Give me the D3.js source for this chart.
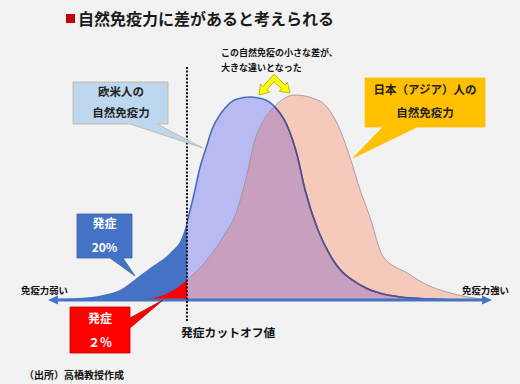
<!DOCTYPE html>
<html>
<head>
<meta charset="utf-8">
<script src="https://d3js.org/d3.v7.min.js"></script>
<style>
  body { margin: 0; background: #f2f2f2; }
  svg text { font-family: "Noto Sans CJK JP", "Noto Sans", sans-serif; font-weight: 700; }
</style>
</head>
<body>
<script>
// immunity (x, 0-100) and relative density (y, 0-100)
var westX = [0.5, 7.2, 12.4, 16.2, 20.0, 23.0, 27.5, 30.2, 31.3, 33.1, 34.2, 35.6, 36.9, 39.9, 42.6, 45.5, 48.4, 51.1, 53.8, 56.1, 57.9, 60.8, 64.2, 70.3, 79.3, 86.0, 92.8];
var westY = [0.5, 1.0, 2.5, 4.9, 10.8, 15.8, 23.2, 31.0, 38.4, 54.2, 65.0, 74.9, 83.7, 94.6, 99.0, 100, 99.0, 95.1, 86.2, 71.4, 54.2, 34.5, 19.7, 7.4, 1.5, 0.5, 0];
var asiaX = [22.5, 27.5, 31.3, 35.8, 39.4, 42.6, 44.4, 46.6, 48.6, 50.7, 53.4, 55.2, 57.9, 60.1, 61.9, 65.3, 68.0, 70.3, 72.5, 75.5, 80.9, 85.4, 89.9, 94.4, 99.5];
var asiaY = [0.5, 3.9, 9.9, 19.7, 31.0, 44.3, 58.1, 78.8, 88.7, 94.6, 99.5, 101, 100.5, 99, 97, 86.2, 70.4, 54.2, 40.9, 21.2, 13.3, 7.4, 3.9, 1.5, 0];
var cutoff = 31.3;
var axisLabels = ["免疫力弱い", "免疫力強い"];
var title = "自然免疫力に差があると考えられる";
var note = ["この自然免疫の小さな差が、", "大きな違いとなった"];
var westLabel = ["欧米人の", "自然免疫力"];
var asiaLabel = ["日本（アジア）人の", "自然免疫力"];
var onsetWest = ["発症", "20%"];
var onsetAsia = ["発症", "２％"];
var cutoffLabel = "発症カットオフ値";
var source = "（出所）高橋教授作成";

var w = 520, h = 384;
var x = d3.scaleLinear().domain([0, 100]).range([48, 492]);
var y = d3.scaleLinear().domain([0, 100]).range([300, 97]);

var west = westX.map(function(d, i){ return [d, westY[i]]; });
var asia = asiaX.map(function(d, i){ return [d, asiaY[i]]; });

var area = d3.area().x(function(d){ return x(d[0]); }).y0(y(0)).y1(function(d){ return y(d[1]); }).curve(d3.curveMonotoneX);
var line = d3.line().x(function(d){ return x(d[0]); }).y(function(d){ return y(d[1]); }).curve(d3.curveMonotoneX);

var svg = d3.select('body').append('svg').attr('width', w).attr('height', h);
svg.append('rect').attr('width', w).attr('height', h).attr('fill', '#f2f2f2');

var defs = svg.append('defs');
defs.append('clipPath').attr('id', 'leftClip').append('rect')
    .attr('x', 0).attr('y', 0).attr('width', x(cutoff)).attr('height', h);
defs.append('clipPath').attr('id', 'rightClip').append('rect')
    .attr('x', x(cutoff)).attr('y', 0).attr('width', w - x(cutoff)).attr('height', h);
defs.append('clipPath').attr('id', 'asiaClip').append('path').attr('d', area(asia));

// title
svg.append('rect').attr('x', 66).attr('y', 14).attr('width', 9).attr('height', 9).attr('fill', '#c00000');
svg.append('text').attr('x', 78).attr('y', 25).attr('font-size', 16).attr('fill', '#1a1a1a').text(title);

// right of cutoff
var right = svg.append('g').attr('clip-path', 'url(#rightClip)');
right.append('path').attr('d', area(asia)).attr('fill', '#f5cabb');
right.append('path').attr('d', area(west)).attr('fill', '#b8bbf1');
right.append('g').attr('clip-path', 'url(#asiaClip)')
    .append('path').attr('d', area(west)).attr('fill', '#c99fc0');
right.append('path').attr('d', line(asia)).attr('fill', 'none').attr('stroke', '#9a8c9c').attr('stroke-width', 0.8);
right.append('path').attr('d', line(west)).attr('fill', 'none').attr('stroke', '#4a6cc0').attr('stroke-width', 1.6);
right.append('g').attr('clip-path', 'url(#asiaClip)')
    .append('path').attr('d', line(west)).attr('fill', 'none').attr('stroke', '#5a4d82').attr('stroke-width', 1.6);

// left of cutoff: onset tails
var left = svg.append('g').attr('clip-path', 'url(#leftClip)');
left.append('path').attr('d', area(west)).attr('fill', '#4472c4');
left.append('path').attr('d', area(asia)).attr('fill', '#ff0000');

// baseline with arrows
var base = y(0);
svg.append('line').attr('x1', x(0) + 6).attr('x2', x(100) - 6).attr('y1', base).attr('y2', base)
    .attr('stroke', '#4472c4').attr('stroke-width', 3);
svg.append('path').attr('d', d3.line()([[x(0), base], [x(0) + 10, base - 4.5], [x(0) + 10, base + 4.5]]) + 'Z').attr('fill', '#4472c4');
svg.append('path').attr('d', d3.line()([[x(100), base], [x(100) - 10, base - 4.5], [x(100) - 10, base + 4.5]]) + 'Z').attr('fill', '#4472c4');
svg.append('text').attr('x', 21).attr('y', 294).attr('font-size', 9.4).attr('fill', '#111').text(axisLabels[0]);
svg.append('text').attr('x', 462).attr('y', 294).attr('font-size', 9.4).attr('fill', '#111').text(axisLabels[1]);

// cutoff line
svg.append('line').attr('x1', x(cutoff)).attr('x2', x(cutoff)).attr('y1', 67).attr('y2', 322)
    .attr('stroke', '#111').attr('stroke-width', 2).attr('stroke-dasharray', '2,1.6');
svg.append('text').attr('x', 181).attr('y', 337).attr('font-size', 11.8).attr('font-weight', 500).attr('fill', '#111').text(cutoffLabel);

// callouts
function callout(pts, fill, stroke){
    svg.append('path').attr('d', d3.line()(pts) + 'Z').attr('fill', fill)
        .attr('stroke', stroke).attr('stroke-width', 0.8);
}
function lines(arr, cx, ys, size, color, anchor){
    arr.forEach(function(t, i){
        svg.append('text').attr('x', cx).attr('y', ys[i]).attr('text-anchor', anchor || 'middle')
            .attr('font-size', size).attr('fill', color).text(t);
    });
}
callout([[73, 82], [168, 82], [168, 124], [157, 124], [203, 148], [130, 124], [73, 124]], '#bdd7ee', '#bdb592');
lines(westLabel, 121, [96, 117], 11.5, '#222');

callout([[365, 78], [485, 78], [485, 127], [417, 127], [353, 158], [383, 127], [365, 127]], '#ffc000', '#ffc000');
lines(asiaLabel, 425, [94, 117], 11.5, '#222');

callout([[77, 214], [132, 214], [132, 258], [123, 258], [135, 276], [110, 258], [77, 258]], '#4472c4', '#3b63ab');
lines(onsetWest, 104.5, [228, 252], 12, '#fff');

callout([[70, 307], [130, 307], [130, 318], [163, 300], [130, 328], [130, 353], [70, 353]], '#ff0000', '#c00000');
lines(onsetAsia, 100, [323, 347], 12, '#fff');

// note and bent double arrow
lines(note, 221, [56, 71], 9, '#111', 'start');
var chevron = [[274, 74.2], [285.1, 85.1], [287.5, 82.5], [290, 93], [279.3, 91.3], [281.7, 88.7], [274, 81.8],
               [266.8, 89.9], [269.4, 92.2], [259, 95], [260.4, 84.3], [263, 86.6]];
svg.append('path').attr('d', d3.line()(chevron) + 'Z')
    .attr('fill', '#ffff00').attr('stroke', '#a6a600').attr('stroke-width', 0.8);

svg.append('text').attr('x', 24).attr('y', 379).attr('font-size', 10).attr('fill', '#111').text(source);
</script>
</body>
</html>
